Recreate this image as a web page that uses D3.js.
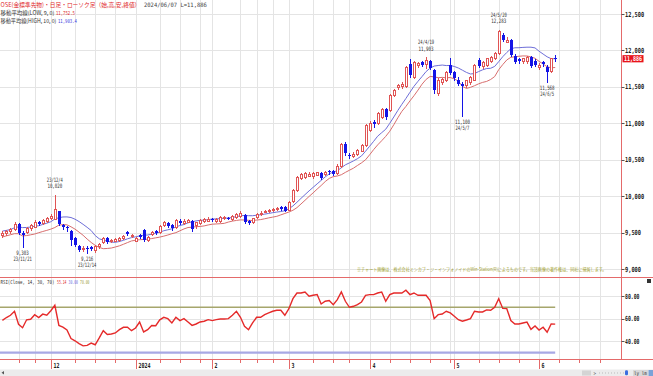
<!DOCTYPE html>
<html>
<head>
<meta charset="utf-8">
<script src="https://cdn.jsdelivr.net/npm/d3@7"></script>
<style>
  body { margin: 0; background: #fff; }
  svg { display: block; }
</style>
</head>
<body>
<svg id="chart" width="653" height="376"></svg>
<script>
// trading days on the chart, month by month
const monthDays = [
  ['2023-11', [14,15,16,17,20,21,22,24,27,28,29,30]],
  ['2023-12', [1,4,5,6,7,8,11,12,13,14,15,18,19,20,21,22,25,26,27,28,29]],
  ['2024-01', [4,5,9,10,11,12,15,16,17,18,19,22,23,24,25,26,29,30,31]],
  ['2024-02', [1,2,5,6,7,8,9,13,14,15,16,19,20,21,22,26,27,28,29]],
  ['2024-03', [1,4,5,6,7,8,11,12,13,14,15,18,19,21,22,25,26,27,28,29]],
  ['2024-04', [1,2,3,4,5,8,9,10,11,12,15,16,17,18,19,22,23,24,25,26,30]],
  ['2024-05', [1,2,7,8,9,10,13,14,15,16,17,20,21,22,23,24,27,28,29,30,31]],
  ['2024-06', [3,4,5,6,7]]
];
// empty slots to the right of the last bar
const futureDays = ['2024-06', [10,11,12,13,14,17,18,19,20,21,24,25,26,27,28]];

const opens = [
  9460,9490,9520,9545,9615,9500,9510,9560,9580,9640,9630,9655,
  9700,9690,9790,9600,9570,9520,9420,9320,9270,9290,9305,9255,9310,9375,9420,9380,9390,9400,9425,9505,9455,
  9390,9470,9535,9400,9480,9515,9510,9605,9630,9610,9570,9660,9630,9650,9660,9600,9630,9660,9665,
  9690,9655,9660,9700,9705,9685,9715,9730,9745,9660,9640,9710,9755,9790,9795,9810,9825,9845,9855,
  9815,9930,10085,10250,10260,10280,10270,10295,10320,10300,10345,10350,10320,10410,10710,10570,10550,10580,10625,10700,
  10910,11020,11000,11090,11190,11185,11390,11495,11505,11510,11820,11640,11800,11835,11810,11850,11730,11415,11560,11595,11800,
  11700,11600,11545,11530,11560,11600,11870,11780,11800,11850,11890,11960,12210,12120,12140,11930,11880,11850,11850,11915,11860,
  11770,11835,11770,11720,11895
];
const highs = [
  9520,9540,9565,9640,9625,9520,9580,9620,9670,9660,9690,9720,
  9760,10020,9800,9620,9590,9535,9440,9335,9310,9310,9320,9330,9355,9440,9435,9410,9420,9445,9470,9520,9480,
  9440,9480,9545,9455,9525,9530,9610,9665,9650,9620,9690,9680,9680,9690,9670,9645,9690,9700,9710,
  9705,9705,9730,9725,9720,9740,9770,9790,9760,9670,9705,9770,9790,9815,9820,9840,9855,9860,9870,
  9940,10095,10275,10320,10335,10330,10325,10335,10335,10350,10355,10360,10440,10730,10740,10590,10600,10645,10715,10990,
  11030,11040,11150,11210,11215,11400,11470,11540,11560,11790,11880,11860,11840,11860,11903,11870,11750,11620,11620,11720,11895,
  11720,11630,11560,11600,11650,11810,11890,11860,11900,11930,11975,12283,12240,12180,12160,11945,11900,11900,11930,11930,11880,
  11830,11850,11800,11900,11940
];
const lows = [
  9440,9470,9500,9530,9480,9303,9490,9540,9570,9600,9620,9640,
  9680,9680,9600,9550,9515,9330,9310,9250,9250,9216,9260,9240,9295,9360,9355,9365,9380,9390,9410,9470,9440,
  9380,9430,9385,9390,9465,9480,9500,9590,9580,9540,9560,9615,9620,9640,9520,9560,9620,9650,9655,
  9655,9645,9650,9685,9680,9675,9705,9720,9635,9615,9630,9700,9745,9780,9785,9800,9815,9815,9790,
  9805,9920,10070,10230,10245,10270,10255,10285,10235,10290,10310,10290,10310,10400,10560,10520,10540,10570,10615,10690,
  10895,10955,10985,11075,11060,11170,11375,11470,11490,11500,11640,11625,11770,11790,11760,11745,11410,11390,11540,11580,11670,
  11600,11520,11100,11500,11540,11590,11770,11760,11790,11840,11880,11950,12130,12110,11920,11830,11830,11830,11830,11770,11780,
  11750,11790,11568,11710,11860
];
const closes = [
  9500,9520,9550,9615,9490,9460,9560,9600,9650,9615,9675,9700,
  9730,9830,9615,9575,9560,9400,9330,9265,9285,9270,9280,9315,9340,9420,9370,9395,9405,9430,9450,9480,9460,
  9420,9445,9400,9440,9510,9495,9590,9650,9595,9560,9670,9630,9660,9670,9545,9640,9670,9685,9690,
  9670,9690,9715,9710,9695,9725,9755,9775,9650,9630,9695,9755,9770,9800,9805,9825,9840,9825,9800,
  9925,10080,10260,10300,10315,10310,10318,10325,10245,10335,10338,10300,10420,10715,10590,10545,10585,10630,10700,10975,
  11010,10990,11135,11190,11080,11385,11455,11525,11540,11775,11665,11845,11825,11805,11865,11760,11455,11600,11605,11710,11690,
  11620,11540,11505,11590,11640,11800,11785,11845,11890,11915,11960,12270,12145,12140,11940,11845,11850,11890,11915,11780,11805,
  11798,11812,11700,11890,11886
];
const rsiValues = [
  58.5,61,63,66.5,55,52,59,59.5,63.5,61,64,63,
  67,71.8,54,52.5,50,42.5,40.5,38,36,36.5,38.5,37,43,49.4,46,46.5,47.4,50.3,52.4,52.4,49.4,
  51.8,57,48.3,50.3,54,53.8,59,61.2,60,56.2,61.2,58.3,60,57.1,54.1,55.3,57.1,57.7,59.1,
  58.3,59.1,59.7,59.7,60,63,66.5,61.2,53.3,50.3,56.2,61.2,61.2,63.5,65,66.5,67.4,67.4,63,
  68.8,77.6,82.6,82.6,83.5,79.7,80.6,81.2,72.9,75.3,75.9,72.3,76.8,83.5,75.3,70,70.9,72.3,74.7,80.6,
  81.2,81.2,82.6,83.5,75.3,81.2,82.6,82.6,82.6,85,81.2,82.6,80.6,80.6,80.6,75.9,60,63.5,64.1,66.5,65,
  62.1,59.1,57.7,58.8,60,66.5,65.9,65.9,67.7,67.4,70,77.6,69,68.8,58.3,55.3,55.3,56.2,57,50.6,53.5,
  50,52.4,48,55.3,55.14
];

const priceTicks = [9000, 9500, 10000, 10500, 11000, 11500, 12000, 12500];
const rsiTicks = [40, 60, 80];
const rsiLevels = [[70, '#a6a66c'], [30, '#a8a8e4']];
const highMarks = [13, 105, 123];
const lowMarks = [5, 21, 114, 135];
const lowPeriod = 9, highPeriod = 10;

const titleText = 'OSE(金標準先物)・日足・ローソク足（始,高,安,終値）';
const titleDate = '2024/06/07 L=11,886';
const maLowLabel = ['移動平均線(LOW, 9, 0)', '11,752.5'];
const maHighLabel = ['移動平均線(HIGH, 10, 0)', '11,903.4'];
const rsiLabel = ['RSI(Close, 14, 30, 70)', '55.14', '30.00', '70.00'];
const notice = '※チャート画像は、株式会社ミンカブ・ジ・インフォノイドのWin-Station(R)によるものです。当該画像の著作権は、同社に帰属します。';

const svg = d3.select('#chart');
const plotRight = 621.5, sepY = 277.5, rsiBottom = 359.5;
const upColor = '#e05454', downColor = '#1414e6', axisRed = '#e46a6a';
const mono = '"DejaVu Sans Mono", monospace', jp = '"Noto Sans CJK JP", sans-serif';

const toDates = ([ym, ds]) => ds.map(d => new Date(ym + '-' + String(d).padStart(2, '0') + 'T00:00:00'));
const dates = monthDays.flatMap(toDates);
const slots = dates.concat(toDates(futureDays));
const n = dates.length;

const x = d3.scaleLinear().domain([0, n - 1]).range([2.4, 555.2]);
const y = d3.scaleLinear().domain([9000, 12500]).range([269, 14]);
const yr = d3.scaleLinear().domain([30, 70]).range([352.7, 307.3]);
const px = i => Math.round(x(i)) + 0.5;
const fmt = d3.format(',');

// month starts get a label, week starts only a gridline + short tick
let monthStarts = [], weekStarts = [];
slots.forEach((d, i) => {
  if (i === 0 || x(i) > plotRight - 2) return;
  let p = slots[i - 1];
  if (d.getMonth() !== p.getMonth()) monthStarts.push(i);
  else if (+d3.timeMonday.floor(d) !== +d3.timeMonday.floor(p) && !monthStarts.some(m => i - m <= 2)) weekStarts.push(i);
});

// squeezed text, the original uses a narrow bitmap font
function label(g, s, xx, yy, w, opts) {
  opts = opts || {};
  let holder = g.append('g');
  let t = holder.append('text').attr('x', 0).attr('y', 0).text(s)
    .attr('font-family', opts.font || mono)
    .attr('font-size', opts.size || 6.5)
    .attr('font-weight', opts.weight || 'normal')
    .attr('fill', opts.fill || '#333')
    .attr('text-anchor', opts.anchor || 'start');
  let sx = w ? w / t.node().getComputedTextLength() : 1;
  holder.attr('transform', 'translate(' + xx + ',' + yy + ') scale(' + sx + ',1)');
  return t;
}

// grid
let grid = svg.append('g').attr('stroke', '#e4e4e4').attr('shape-rendering', 'crispEdges');
grid.selectAll('.vg').data(monthStarts.concat(weekStarts)).join('line')
  .attr('x1', px).attr('x2', px).attr('y1', 0).attr('y2', rsiBottom);
grid.selectAll('.hg').data(priceTicks).join('line')
  .attr('x1', 0).attr('x2', plotRight).attr('y1', d => Math.round(y(d)) + 0.5).attr('y2', d => Math.round(y(d)) + 0.5);
grid.selectAll('.rg').data(rsiTicks).join('line')
  .attr('x1', 0).attr('x2', plotRight).attr('y1', d => Math.round(yr(d)) + 0.5).attr('y2', d => Math.round(yr(d)) + 0.5);

// notice text sits on the bottom of the price panel
label(svg, notice, 357, 270.5, 250, {font: jp, size: 4.6, fill: '#a3a332'});

// moving averages of low (9) and high (10)
const movingAvg = (arr, p) => arr.map((v, i) => d3.mean(arr.slice(Math.max(0, i - p + 1), i + 1)));
const maLow = movingAvg(lows, lowPeriod), maHigh = movingAvg(highs, highPeriod);
const line = d3.line().x((d, i) => x(i)).y(d => y(d));
svg.append('path').attr('d', line(maHigh)).attr('fill', 'none').attr('stroke', '#6e6ed8').attr('stroke-width', 1);
svg.append('path').attr('d', line(maLow)).attr('fill', 'none').attr('stroke', '#d86e6e').attr('stroke-width', 1);

// candles
const bars = d3.range(n).map(i => ({i: i, o: opens[i], h: highs[i], l: lows[i], c: closes[i], up: closes[i] >= opens[i]}));
let candles = svg.append('g').attr('shape-rendering', 'crispEdges');
candles.selectAll('.wick').data(bars).join('line')
  .attr('x1', d => px(d.i)).attr('x2', d => px(d.i))
  .attr('y1', d => Math.round(y(d.h))).attr('y2', d => Math.round(y(d.l)) + 1)
  .attr('stroke', d => d.up ? upColor : downColor);
candles.selectAll('.body').data(bars).join('rect')
  .attr('x', d => d.up ? Math.round(x(d.i)) - 0.5 : Math.round(x(d.i)) - 1)
  .attr('width', d => d.up ? 2 : 3)
  .attr('y', d => Math.round(y(Math.max(d.o, d.c))) + (d.up ? 0.5 : 0))
  .attr('height', d => Math.max(1, Math.round(y(Math.min(d.o, d.c))) - Math.round(y(Math.max(d.o, d.c)))))
  .attr('fill', d => d.up ? '#fff' : downColor)
  .attr('stroke', d => d.up ? upColor : 'none');

// swing labels
const dateText = d => String(d.getFullYear()).slice(2) + '/' + (d.getMonth() + 1) + '/' + d.getDate();
let marks = svg.append('g');
highMarks.forEach(i => {
  let ds = dateText(dates[i]), vs = fmt(highs[i]);
  label(marks, ds, x(i), y(highs[i]) - 13, ds.length * 2.3, {anchor: 'middle', size: 6});
  label(marks, vs, x(i), y(highs[i]) - 6.5, vs.length * 2.5, {anchor: 'middle', size: 6});
});
lowMarks.forEach(i => {
  let ds = dateText(dates[i]), vs = fmt(lows[i]);
  label(marks, vs, x(i), y(lows[i]) + 8, vs.length * 2.5, {anchor: 'middle', size: 6});
  label(marks, ds, x(i), y(lows[i]) + 14, ds.length * 2.3, {anchor: 'middle', size: 6});
});

// RSI panel
rsiLevels.forEach(([v, col]) => {
  svg.append('line').attr('x1', 0).attr('x2', x(n - 1)).attr('y1', yr(v)).attr('y2', yr(v))
    .attr('stroke', col).attr('stroke-width', v === 30 ? 2.2 : 1.4);
});
svg.append('path')
  .attr('d', d3.line().x((d, i) => x(i)).y(d => yr(d))(rsiValues))
  .attr('fill', 'none').attr('stroke', '#e52a2a').attr('stroke-width', 1.4);

// frame
let frame = svg.append('g').attr('stroke', axisRed).attr('shape-rendering', 'crispEdges');
frame.append('line').attr('x1', 0).attr('x2', 653).attr('y1', sepY).attr('y2', sepY);
frame.append('line').attr('x1', 0).attr('x2', 653).attr('y1', rsiBottom).attr('y2', rsiBottom);
frame.append('line').attr('x1', plotRight).attr('x2', plotRight).attr('y1', 0).attr('y2', rsiBottom);
frame.selectAll('.wt').data(weekStarts).join('line')
  .attr('x1', px).attr('x2', px).attr('y1', rsiBottom).attr('y2', rsiBottom + 3);
frame.selectAll('.mt').data(monthStarts).join('line')
  .attr('x1', px).attr('x2', px).attr('y1', rsiBottom).attr('y2', rsiBottom + 9);

// right axis
let axis = svg.append('g');
priceTicks.forEach(v => {
  axis.append('line').attr('x1', plotRight).attr('x2', plotRight + 3)
    .attr('y1', Math.round(y(v)) + 0.5).attr('y2', Math.round(y(v)) + 0.5).attr('stroke', '#555');
  label(axis, fmt(v), 625, y(v) + 2.6, fmt(v).length * 3.2, {weight: 'bold', size: 7, fill: '#222'});
});
rsiTicks.forEach(v => {
  axis.append('line').attr('x1', plotRight).attr('x2', plotRight + 3)
    .attr('y1', Math.round(yr(v)) + 0.5).attr('y2', Math.round(yr(v)) + 0.5).attr('stroke', '#555');
  label(axis, v.toFixed(2), 625, yr(v) + 2.6, 14.5, {weight: 'bold', size: 7, fill: '#222'});
});
const last = closes[n - 1];
axis.append('rect').attr('x', 622.5).attr('y', y(last) - 3.6).attr('width', 21).attr('height', 7.2).attr('fill', '#e8141c');
label(axis, fmt(last), 624, y(last) + 2.4, 18, {weight: 'bold', size: 6.5, fill: '#fff'});

// month labels
monthStarts.forEach(i => {
  let d = slots[i], s = d.getMonth() === 0 ? String(d.getFullYear()) : String(d.getMonth() + 1);
  label(svg, s, px(i) + 2, 368, s.length * 3, {weight: 'bold', size: 7, fill: '#222'});
});

// legends
label(svg, titleText, 0.5, 6.5, 140, {font: jp, size: 6, fill: '#e0282a'});
label(svg, titleDate, 144, 6.5, 63, {size: 6, fill: '#444'});
label(svg, maLowLabel[0], 0.5, 14.8, 54, {font: jp, size: 5.5, fill: '#333'});
label(svg, maLowLabel[1], 56, 14.8, 19, {size: 5.5, fill: '#e0282a'});
label(svg, maHighLabel[0], 0.5, 23, 56, {font: jp, size: 5.5, fill: '#333'});
label(svg, maHighLabel[1], 58, 23, 19, {size: 5.5, fill: '#3a3ae0'});
label(svg, rsiLabel[0], 0.5, 283.5, 54, {size: 5.5, fill: '#333'});
label(svg, rsiLabel[1], 57, 283.5, 9.5, {size: 5.5, fill: '#e0282a'});
label(svg, rsiLabel[2], 68.5, 283.5, 9.5, {size: 5.5, fill: '#6a6ae0'});
label(svg, rsiLabel[3], 80, 283.5, 9.5, {size: 5.5, fill: '#a0a040'});

// little widgets of the viewer
svg.append('rect').attr('x', 647).attr('y', 279).attr('width', 4).attr('height', 4).attr('fill', '#333');
let bar = svg.append('g');
bar.append('rect').attr('x', 0).attr('y', 369.5).attr('width', 653).attr('height', 6.5).attr('fill', '#ececec');
bar.append('path').attr('d', 'M1.5,372.7 L4,371 L4,374.4 Z').attr('fill', '#555');
bar.append('rect').attr('x', 582).attr('y', 370.5).attr('width', 9).attr('height', 5).attr('fill', '#d4d4d4');
label(bar, '>', 593.5, 375, 2.5, {size: 5, fill: '#555'});
bar.append('line').attr('x1', 599).attr('x2', 625).attr('y1', 373).attr('y2', 373)
  .attr('stroke', '#bbb').attr('stroke-dasharray', '1,2');
bar.append('rect').attr('x', 625).attr('y', 370.3).attr('width', 3).attr('height', 5).attr('rx', 1.2).attr('fill', '#3a6ee0');
bar.append('rect').attr('x', 633).attr('y', 370).attr('width', 15).attr('height', 6).attr('fill', '#d8d8d8');
label(bar, 'ly lm', 634, 375, 13, {size: 5, fill: '#333'});
bar.append('rect').attr('x', 648.5).attr('y', 370).attr('width', 4.5).attr('height', 6).attr('fill', '#7aa2d8');
</script>
</body>
</html>
